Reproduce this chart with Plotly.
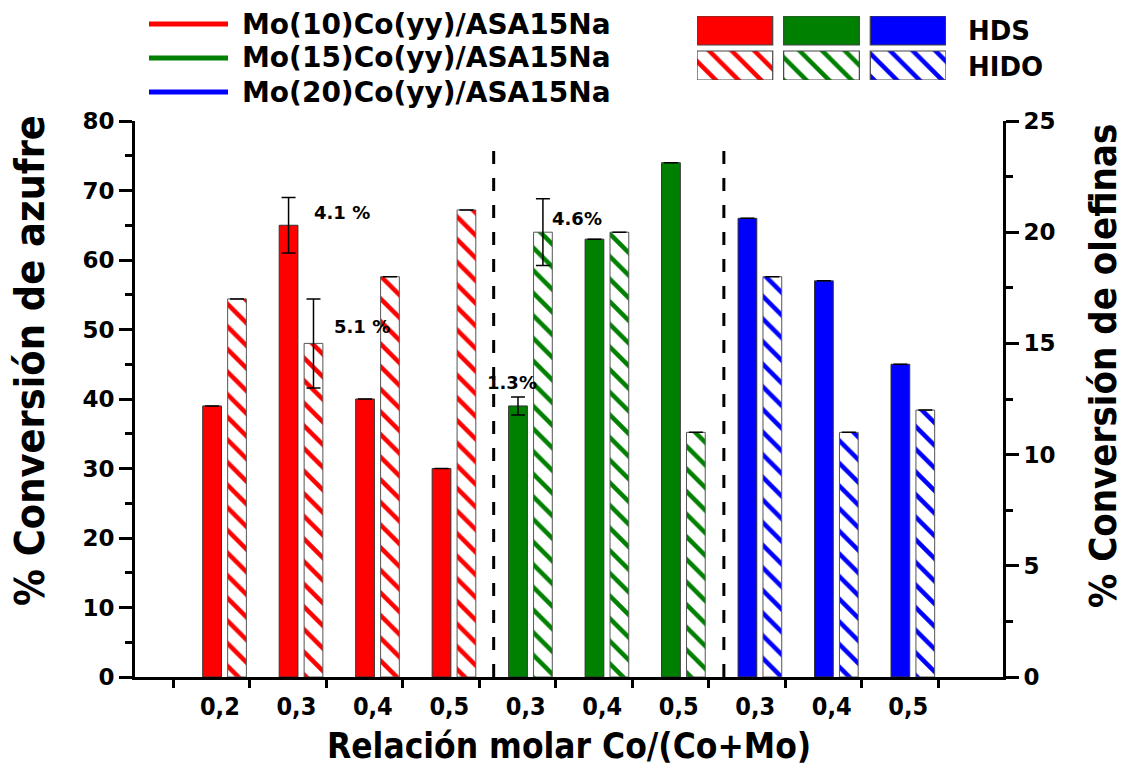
import plotly.graph_objects as go

# ---------------- data ----------------
ratio_labels = ["0,2", "0,3", "0,4", "0,5", "0,3", "0,4", "0,5", "0,3", "0,4", "0,5"]

mo10_hds = [39, 65, 40, 30]
mo10_hido = [17, 15, 18, 21]
mo10_hds_err = [None, 4, None, None]
mo10_hido_err = [None, 2, None, None]

mo15_hds = [39, 63, 74]
mo15_hido = [20, 20, 11]
mo15_hds_err = [1.3, None, None]
mo15_hido_err = [1.5, None, None]

mo20_hds = [66, 57, 45]
mo20_hido = [18, 11, 12]
mo20_hds_err = [None, None, None]
mo20_hido_err = [None, None, None]

series_names = ["Mo(10)Co(yy)/ASA15Na", "Mo(15)Co(yy)/ASA15Na", "Mo(20)Co(yy)/ASA15Na"]
colors = ["#FF0000", "#008000", "#0000FF"]

err_labels = ["4.1 %", "5.1 %", "1.3%", "4.6%"]
err_label_x = [2.82, 3.08, 5.08, 5.93]
err_label_y = [66.9, 50.4, 42.4, 65.9]

separators = [5.19, 8.20]

# ---------------- geometry ----------------
W, H = 1124, 765
PL, PR, PT, PB = 135, 1003, 121, 677  # plot area in px
SOLID_OFF, HATCH_OFF, BAR_W = 0.508, 0.834, 0.245


def px_x(p):
    return p / W


def px_y(p):
    return 1 - p / H


groups = [
    (mo10_hds, mo10_hido, mo10_hds_err, mo10_hido_err),
    (mo15_hds, mo15_hido, mo15_hds_err, mo15_hido_err),
    (mo20_hds, mo20_hido, mo20_hds_err, mo20_hido_err),
]

fig = go.Figure()

pattern_common = dict(shape="\\", size=16, solidity=0.28, fillmode="overlay", bgcolor="white", fgopacity=1)

start = 1
for gi, (hds, hido, hds_e, hido_e) in enumerate(groups):
    ticks = [start + k for k in range(len(hds))]
    fig.add_trace(go.Bar(
        x=[t + SOLID_OFF for t in ticks], y=hds, width=BAR_W,
        marker=dict(color=colors[gi], line=dict(color="#333333", width=1)),
        error_y=dict(type="data", array=hds_e, color="black", thickness=1.5, width=7, visible=True),
        xaxis="x", yaxis="y", showlegend=False, name=series_names[gi] + " HDS",
    ))
    fig.add_trace(go.Bar(
        x=[t + HATCH_OFF for t in ticks], y=hido, width=BAR_W,
        marker=dict(color="white", line=dict(color="#555555", width=1),
                    pattern=dict(fgcolor=colors[gi], **pattern_common)),
        error_y=dict(type="data", array=hido_e, color="black", thickness=1.5, width=7, visible=True),
        xaxis="x", yaxis="y2", showlegend=False, name=series_names[gi] + " HIDO",
    ))
    start += len(hds)

n_groups = len(ratio_labels)
tick_positions = list(range(1, n_groups + 2))
label_positions = [t + 0.61 for t in range(1, n_groups + 1)]

# legend swatches (mini axes)
leg_x = [0, 1, 2]
leg_h = [29, 29, 29]
fig.add_trace(go.Bar(x=leg_x, y=leg_h, base=[35, 35, 35], width=0.874,
                     marker=dict(color=colors, line=dict(color="#444444", width=1.2)),
                     xaxis="x3", yaxis="y3", showlegend=False, hoverinfo="skip"))
fig.add_trace(go.Bar(x=leg_x, y=leg_h, base=[0, 0, 0], width=0.874,
                     marker=dict(color="white", line=dict(color="#444444", width=1.2),
                                 pattern=dict(fgcolor=colors, **pattern_common)),
                     xaxis="x3", yaxis="y3", showlegend=False, hoverinfo="skip"))

narrow = "Liberation Sans Narrow, DejaVu Sans Condensed, Arial Narrow, sans-serif"
ytick_font = dict(family="DejaVu Sans", size=23, color="black", weight="bold")

fig.update_layout(
    width=W, height=H,
    margin=dict(l=0, r=0, t=0, b=0, autoexpand=False),
    paper_bgcolor="white", plot_bgcolor="white",
    barmode="overlay",
    xaxis=dict(domain=[PL / W, PR / W], range=[0.5, 11.85],
               tickvals=label_positions, ticktext=ratio_labels,
               ticks="", ticklabelstandoff=5,
               tickfont=dict(family=narrow, size=25, color="black", weight="bold"),
               minor=dict(tickvals=tick_positions, ticks="outside", ticklen=8, tickwidth=3, tickcolor="black"),
               showline=True, linewidth=3, linecolor="black",
               showgrid=False, zeroline=False, anchor="y", automargin=False),
    yaxis=dict(domain=[px_y(PB), px_y(PT)], range=[0, 80], dtick=10,
               ticks="outside", ticklen=13, tickwidth=3, tickcolor="black",
               minor=dict(dtick=5, ticks="outside", ticklen=7, tickwidth=3, tickcolor="black"),
               showline=True, linewidth=3, linecolor="black",
               tickfont=ytick_font,
               showgrid=False, zeroline=False, anchor="x", automargin=False),
    yaxis2=dict(domain=[px_y(PB), px_y(PT)], range=[0, 25], dtick=5, overlaying="y", side="right",
                ticks="outside", ticklen=13, tickwidth=3, tickcolor="black",
                minor=dict(dtick=2.5, ticks="outside", ticklen=7, tickwidth=3, tickcolor="black"),
                showline=True, linewidth=3, linecolor="black",
                tickfont=ytick_font,
                showgrid=False, zeroline=False, anchor="x", automargin=False),
    xaxis3=dict(domain=[697 / W, 946 / W], range=[-0.437, 2.437], visible=False, anchor="y3", automargin=False),
    yaxis3=dict(domain=[px_y(80), px_y(16)], range=[0, 64], visible=False, anchor="x3", automargin=False),
)

annotations = []
# axis titles
annotations.append(dict(text="Relación molar Co/(Co+Mo)", x=px_x(569), y=px_y(746), xref="paper", yref="paper",
                        xanchor="center", yanchor="middle", showarrow=False,
                        font=dict(family=narrow, size=35, color="black", weight="bold")))
annotations.append(dict(text="% Conversión de azufre", x=px_x(30), y=px_y(361), xref="paper", yref="paper",
                        xanchor="center", yanchor="middle", textangle=-90, showarrow=False,
                        font=dict(family=narrow, size=41, color="black", weight="bold")))
annotations.append(dict(text="% Conversión de olefinas", x=px_x(1103), y=px_y(366), xref="paper", yref="paper",
                        xanchor="center", yanchor="middle", textangle=-90, showarrow=False,
                        font=dict(family=narrow, size=38, color="black", weight="bold")))
# error labels
for t, xv, yv in zip(err_labels, err_label_x, err_label_y):
    annotations.append(dict(text=t, x=xv, y=yv, xref="x", yref="y", xanchor="left", yanchor="middle",
                            showarrow=False,
                            font=dict(family="DejaVu Sans", size=18, color="black", weight="bold")))
# legend texts
leg_rows = [24, 58, 92]
for name, yy in zip(series_names, leg_rows):
    annotations.append(dict(text=name, x=px_x(240), y=px_y(yy), xref="paper", yref="paper",
                            xanchor="left", yanchor="middle", showarrow=False,
                            font=dict(family="DejaVu Sans", size=28, color="black", weight="bold")))
annotations.append(dict(text="HDS", x=px_x(966), y=px_y(31), xref="paper", yref="paper", xanchor="left",
                        yanchor="middle", showarrow=False,
                        font=dict(family="DejaVu Sans", size=26, color="black", weight="bold")))
annotations.append(dict(text="HIDO", x=px_x(966), y=px_y(67), xref="paper", yref="paper", xanchor="left",
                        yanchor="middle", showarrow=False,
                        font=dict(family="DejaVu Sans", size=26, color="black", weight="bold")))
fig.update_layout(annotations=annotations)

shapes = []
for c, yy in zip(colors, leg_rows):
    shapes.append(dict(type="line", xref="paper", yref="paper", x0=px_x(149), x1=px_x(228),
                       y0=px_y(yy), y1=px_y(yy), line=dict(color=c, width=5)))
for sx in separators:
    shapes.append(dict(type="line", xref="x", yref="y", x0=sx, x1=sx, y0=0, y1=77.4,
                       line=dict(color="black", width=3, dash="13px,14px")))
fig.update_layout(shapes=shapes)

fig.write_html("out.html")
